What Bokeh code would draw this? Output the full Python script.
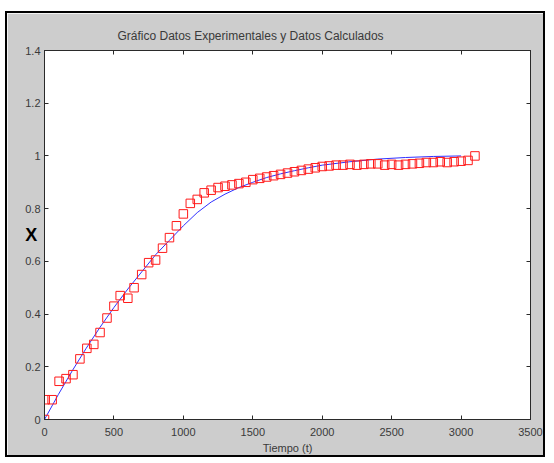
from bokeh.plotting import figure
from bokeh.models import LinearAxis, Range1d, FixedTicker
from bokeh.embed import file_html
from bokeh.resources import INLINE

# ---- data ----
t_exp = [0, 5, 55, 105, 155, 205, 255, 305, 355, 400, 450, 500, 545, 600, 645,
         700, 750, 800, 850, 900, 950, 1000, 1050, 1100, 1150, 1200, 1250, 1300,
         1350, 1400, 1450, 1500, 1550, 1600, 1650, 1700, 1750, 1800, 1850, 1900,
         1950, 2000, 2050, 2100, 2150, 2200, 2250, 2300, 2350, 2400, 2450, 2500,
         2550, 2600, 2650, 2700, 2750, 2800, 2850, 2900, 2950, 3000, 3050, 3100]
x_exp = [0.0, 0.075, 0.075, 0.145, 0.155, 0.17, 0.23, 0.27, 0.285, 0.33, 0.385,
         0.43, 0.47, 0.46, 0.50, 0.55, 0.595, 0.605, 0.65, 0.69, 0.735, 0.78,
         0.82, 0.835, 0.86, 0.87, 0.88, 0.885, 0.89, 0.895, 0.90, 0.91, 0.915,
         0.92, 0.925, 0.93, 0.935, 0.94, 0.945, 0.95, 0.955, 0.96, 0.962, 0.965,
         0.965, 0.968, 0.965, 0.968, 0.97, 0.97, 0.965, 0.968, 0.965, 0.968,
         0.97, 0.972, 0.975, 0.975, 0.978, 0.975, 0.978, 0.98, 0.983, 1.0]

t_calc = [0, 100, 200, 300, 400, 500, 600, 700, 800, 900, 1000, 1100, 1200, 1300,
          1400, 1500, 1600, 1700, 1800, 1900, 2000, 2200, 2400, 2600, 2800, 3000]
x_calc = [0.0, 0.095, 0.185, 0.27, 0.35, 0.425, 0.495, 0.56, 0.625, 0.68, 0.735,
          0.785, 0.825, 0.855, 0.88, 0.90, 0.918, 0.932, 0.944, 0.955, 0.965,
          0.978, 0.988, 0.994, 0.998, 1.0]

x_ticks = [0, 500, 1000, 1500, 2000, 2500, 3000, 3500]
y_ticks = [0, 0.2, 0.4, 0.6, 0.8, 1, 1.2, 1.4]
y_tick_labels = {0: "0", 0.2: "0.2", 0.4: "0.4", 0.6: "0.6", 0.8: "0.8",
                 1: "1", 1.2: "1.2", 1.4: "1.4"}

title_text = "Gráfico Datos Experimentales y Datos Calculados"
x_label = "Tiempo (t)"
y_label = "X"

FONT = "Liberation Sans"
GRAY_BG = "#cdcdcd"
TXT = "#3a3a3a"

p = figure(width=540, height=446, output_backend="svg", toolbar_location=None,
           x_range=Range1d(0, 3500), y_range=Range1d(0, 1.4),
           x_axis_location=None, y_axis_location=None,
           min_border_left=37, min_border_right=17,
           min_border_top=37, min_border_bottom=40)
p.styles = {"border": "2px solid black", "margin-top": "11px",
            "margin-left": "5px"}
p.border_fill_color = GRAY_BG
p.background_fill_color = "white"
p.outline_line_color = "#2a2a2a"
p.outline_line_width = 1
p.xgrid.visible = False
p.ygrid.visible = False

p.title.text = title_text
p.title.text_font = FONT
p.title.text_font_size = "12px"
p.title.text_font_style = "normal"
p.title.text_color = TXT
p.title.align = "left"
p.title.offset = 73
p.title.standoff = 16


def style_axis(ax, ticks, labels=True):
    ax.ticker = FixedTicker(ticks=ticks)
    ax.major_tick_in = 4
    ax.major_tick_out = 0
    ax.minor_tick_in = 0
    ax.minor_tick_out = 0
    ax.axis_line_color = "#2a2a2a"
    ax.major_tick_line_color = "#2a2a2a"
    ax.major_label_text_font = FONT
    ax.major_label_text_font_size = "11px"
    ax.major_label_text_color = TXT
    if not labels:
        ax.major_label_overrides = {t: "" for t in ticks}
        ax.major_label_standoff = 0


bx = LinearAxis(axis_label=x_label)
style_axis(bx, x_ticks)
bx.major_label_standoff = 8
bx.axis_label_standoff = 3
bx.axis_label_text_font = FONT
bx.axis_label_text_font_size = "11px"
bx.axis_label_text_font_style = "normal"
bx.axis_label_text_color = TXT
p.add_layout(bx, "below")

ly = LinearAxis(axis_label=y_label)
style_axis(ly, y_ticks)
ly.major_label_overrides = y_tick_labels
ly.major_label_standoff = 4
ly.axis_label_orientation = "horizontal"
ly.axis_label_standoff = -15
ly.axis_label_text_font = FONT
ly.axis_label_text_font_size = "18px"
ly.axis_label_text_font_style = "bold"
ly.axis_label_text_color = "black"
p.add_layout(ly, "left")

tx = LinearAxis()
style_axis(tx, x_ticks, labels=False)
p.add_layout(tx, "above")

ry = LinearAxis()
style_axis(ry, y_ticks, labels=False)
p.add_layout(ry, "right")

p.line(t_calc, x_calc, line_color="#3030ff", line_width=1)
p.scatter(t_exp, x_exp, marker="square", size=8.5, fill_color=None,
          line_color="#ff1a1a", line_width=1)

open("out.html", "w").write(file_html(p, INLINE))
